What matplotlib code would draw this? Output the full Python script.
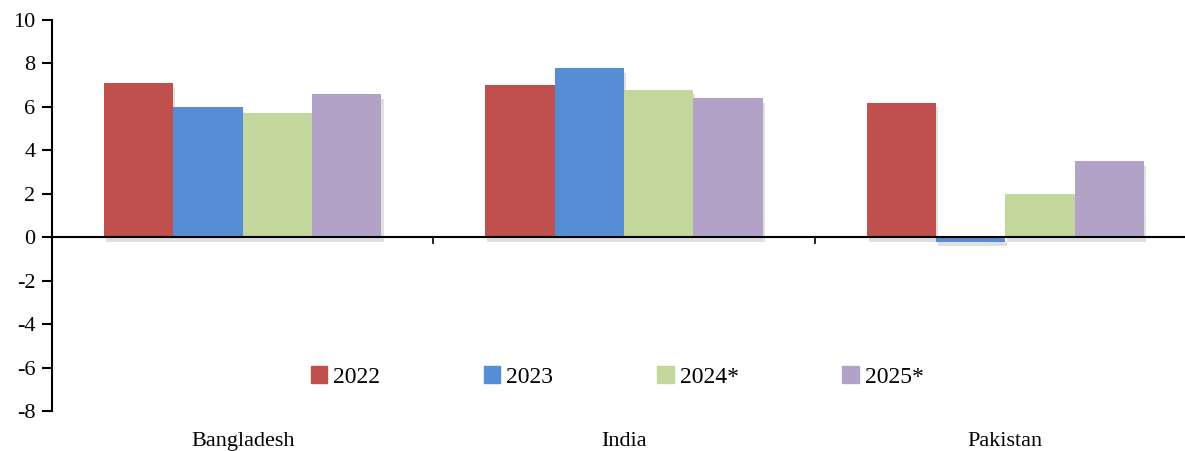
import matplotlib
matplotlib.use('Agg')
import matplotlib.pyplot as plt
import matplotlib.patheffects as pe
import matplotlib.patches as mpatches
import numpy as np

countries = ['Bangladesh', 'India', 'Pakistan']
years = ['2022', '2023', '2024*', '2025*']
v2022 = [7.1, 7.0, 6.2]
v2023 = [6.0, 7.8, -0.2]
v2024 = [5.7, 6.8, 2.0]
v2025 = [6.6, 6.4, 3.5]
colors = ['#C0504D', '#558ED5', '#C3D69B', '#B3A2C7']

plt.rcParams['font.family'] = ['Liberation Serif', 'DejaVu Serif']
plt.rcParams['axes.unicode_minus'] = False

fig = plt.figure(figsize=(11.85, 4.51), dpi=100)
# plot area runs slightly past the right edge, like the original
ax = fig.add_axes([52 / 1185, 40 / 451, 1144 / 1185, 391 / 451])

x = np.arange(len(countries))
w = 0.182
series = [v2022, v2023, v2024, v2025]
shadow = [pe.SimplePatchShadow(offset=(1.5, -3.5), shadow_rgbFace='#999999', alpha=0.3), pe.Normal()]
for i, vals in enumerate(series):
    bars = ax.bar(x + (i - 1.5) * w, vals, width=w, color=colors[i], zorder=2)
    for b in bars:
        b.set_path_effects(shadow)

ax.set_xlim(-0.5, 2.5)
ax.set_ylim(-8, 10)
ax.set_yticks(range(-8, 11, 2))
ax.tick_params(axis='y', direction='out', length=7, width=1.5, labelsize=16, pad=5)
for s in ['top', 'right']:
    ax.spines[s].set_visible(False)
ax.spines['left'].set_linewidth(1.5)
ax.spines['bottom'].set_position(('data', 0))
ax.spines['bottom'].set_linewidth(1.5)
ax.spines['bottom'].set_zorder(3)
ax.set_xticks([0.5, 1.5])
ax.set_xticklabels([])
ax.tick_params(axis='x', direction='out', length=5, width=1.2)

for xi, name in zip(x, countries):
    ax.annotate(name, (xi, 0), xycoords=('data', 'axes fraction'), xytext=(0, -22),
                textcoords='offset points', ha='center', va='center', fontsize=16)

handles = [mpatches.Patch(color=c, label=y) for c, y in zip(colors, years)]
ax.legend(handles=handles, loc='center', bbox_to_anchor=(0.494, 0.087), ncol=4, frameon=False,
          fontsize=17, handlelength=0.7, handleheight=0.7, handletextpad=0.25,
          columnspacing=4.4)

fig.savefig('out.png', dpi=100)
